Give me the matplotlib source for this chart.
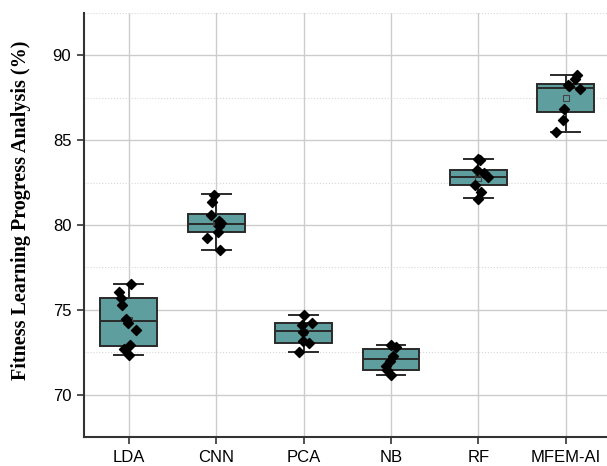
import matplotlib
matplotlib.use('Agg')
import matplotlib.pyplot as plt
import numpy as np
from matplotlib.ticker import MultipleLocator

methods = ['LDA', 'CNN', 'PCA', 'NB', 'RF', 'MFEM-AI']

# box stats: lower whisker, q1, median, q3, upper whisker, mean
whislo = [72.35, 78.55, 72.50, 71.14, 81.57, 85.49]
q1 = [72.90, 79.57, 73.05, 71.44, 82.34, 86.66]
med = [74.37, 80.06, 73.78, 72.09, 82.83, 88.10]
q3 = [75.70, 80.63, 74.25, 72.72, 83.26, 88.33]
whishi = [76.55, 81.81, 74.72, 72.91, 83.91, 88.82]
means = [74.40, 80.10, 73.70, 72.05, 82.80, 87.52]

# individual samples
points = [
    [76.55, 76.04, 75.69, 75.31, 74.45, 74.25, 73.80, 72.92, 72.69, 72.35],
    [81.80, 81.35, 80.60, 80.26, 80.12, 79.92, 79.57, 79.26, 78.55],
    [74.72, 74.25, 74.13, 73.72, 73.17, 73.05, 72.50],
    [72.95, 72.80, 72.26, 72.00, 71.67, 71.44, 71.14],
    [83.91, 83.81, 83.22, 83.06, 82.86, 82.37, 81.97, 81.54],
    [88.82, 88.61, 88.27, 88.17, 88.02, 86.86, 86.21, 85.49],
]
# horizontal jitter of the samples (in category units)
jitter = [
    [0.03, -0.11, -0.09, -0.08, -0.03, -0.01, 0.08, 0.01, -0.06, 0.0],
    [-0.02, -0.05, -0.06, 0.03, 0.05, 0.03, 0.02, -0.11, 0.04],
    [0.0, 0.09, -0.02, -0.01, -0.01, 0.06, -0.05],
    [0.0, 0.06, 0.02, -0.01, -0.06, -0.05, 0.0],
    [0.0, 0.02, -0.02, 0.06, 0.11, -0.04, 0.03, 0.0],
    [0.13, 0.10, 0.02, 0.04, 0.16, -0.02, -0.03, -0.11],
]

fig = plt.figure(figsize=(6.07, 4.66), dpi=100)
ax = fig.add_axes([0.138, 0.062, 0.862, 0.91])

stats = []
for i in range(len(methods)):
    stats.append({'whislo': whislo[i], 'q1': q1[i], 'med': med[i], 'q3': q3[i],
                  'whishi': whishi[i], 'mean': means[i], 'fliers': []})

pos = np.arange(len(methods))
ax.bxp(stats, positions=pos, widths=0.65, patch_artist=True, showmeans=True,
       capwidths=0.33,
       boxprops=dict(facecolor='#5f9e9e', edgecolor='#2a2a2a', linewidth=1.4),
       medianprops=dict(color='#2a2a2a', linewidth=1.4),
       whiskerprops=dict(color='#2a2a2a', linewidth=1.4),
       capprops=dict(color='#2a2a2a', linewidth=1.4),
       meanprops=dict(marker='s', markerfacecolor='none', markeredgecolor='#444444',
                      markersize=4, markeredgewidth=0.8),
       zorder=3)

for i in range(len(methods)):
    ax.scatter(pos[i] + np.array(jitter[i]), points[i], marker='D', s=26,
               color='black', zorder=4)

ax.set_xlim(-0.515, 5.47)
ax.set_ylim(67.5, 92.5)
ax.set_xticks(pos)
ax.set_xticklabels(methods, fontsize=12, family='Liberation Sans')
ax.yaxis.set_major_locator(MultipleLocator(5))
ax.yaxis.set_minor_locator(MultipleLocator(2.5))
ax.set_yticks([70, 75, 80, 85, 90])
for lab in ax.get_yticklabels():
    lab.set_fontsize(12)
    lab.set_family('Liberation Sans')

ax.grid(True, which='major', color='#cccccc', linewidth=1.0, zorder=0)
ax.grid(True, which='minor', axis='y', color='#d8d8d8', linewidth=0.8,
        linestyle=':', zorder=0)
ax.set_axisbelow(True)
ax.tick_params(which='minor', length=0)
ax.tick_params(which='major', direction='out', length=5, width=1.2,
               color='#333333', pad=4)

for s in ['top', 'right']:
    ax.spines[s].set_visible(False)
for s in ['left', 'bottom']:
    ax.spines[s].set_linewidth(1.5)
    ax.spines[s].set_color('#333333')

ax.set_ylabel('Fitness Learning Progress Analysis (%)', fontsize=14.5,
              fontweight='bold', family='Liberation Serif', labelpad=4)
ax.yaxis.set_label_coords(-0.10, 0.535)

plt.savefig('out.png', dpi=100)
